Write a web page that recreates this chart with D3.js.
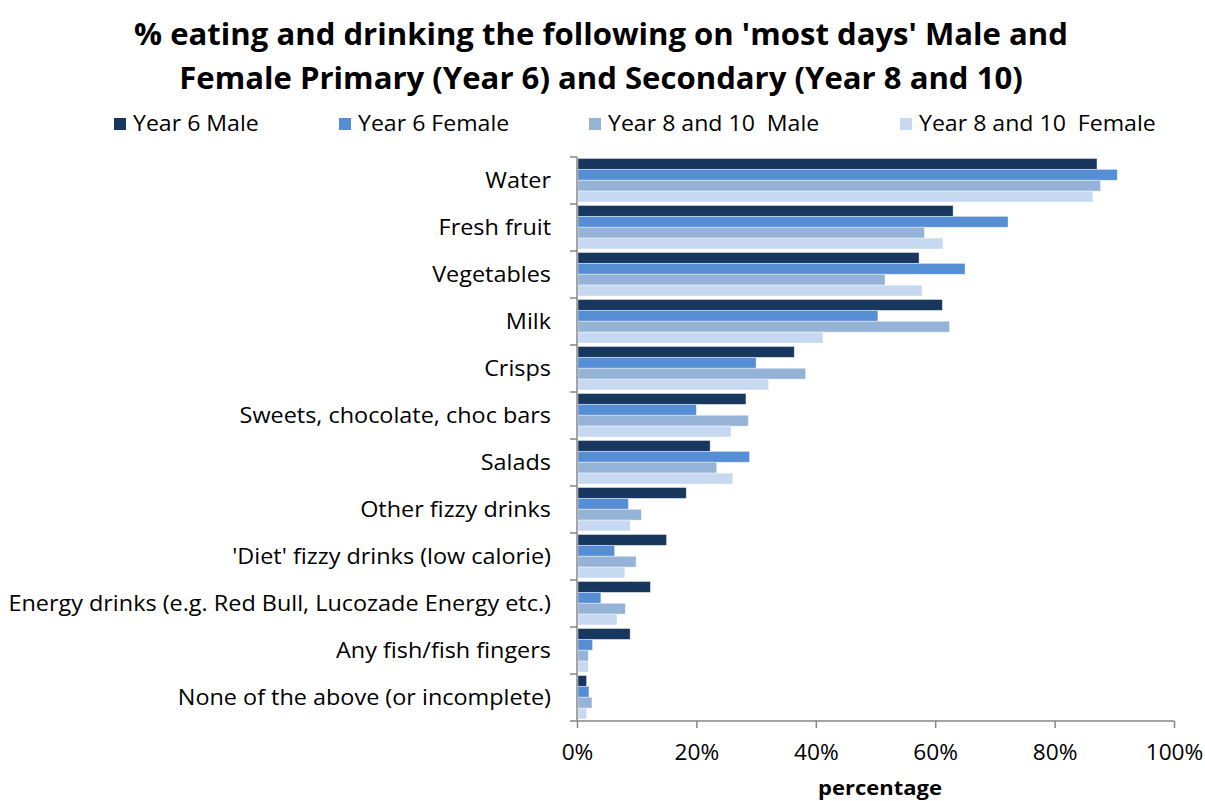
<!DOCTYPE html>
<html>
<head>
<meta charset="utf-8">
<script src="https://cdn.jsdelivr.net/npm/d3@7"></script>
<style>
  body { margin: 0; background: #fff; }
  svg { font-family: "Open Sans", sans-serif; }
  text { white-space: pre; }
</style>
</head>
<body>
<div id="chart"></div>
<script>
// Categories and series (values in %)
var categories = ["Water", "Fresh fruit", "Vegetables", "Milk", "Crisps",
  "Sweets, chocolate, choc bars", "Salads", "Other fizzy drinks",
  "'Diet' fizzy drinks (low calorie)", "Energy drinks (e.g. Red Bull, Lucozade Energy etc.)",
  "Any fish/fish fingers", "None of the above (or incomplete)"];
var seriesNames = ["Year 6 Male", "Year 6 Female", "Year 8 and 10  Male", "Year 8 and 10  Female"];
var year6Male =     [87.1, 63.0, 57.3, 61.2, 36.4, 28.3, 22.3, 18.3, 15.0, 12.3, 8.9, 1.6];
var year6Female =   [90.5, 72.2, 65.0, 50.4, 30.0, 20.0, 28.9, 8.6, 6.3, 4.0, 2.6, 2.0];
var year810Male =   [87.7, 58.2, 51.6, 62.4, 38.3, 28.7, 23.4, 10.8, 9.9, 8.1, 1.9, 2.5];
var year810Female = [86.4, 61.3, 57.8, 41.2, 32.1, 25.8, 26.1, 8.9, 8.0, 6.7, 1.9, 1.6];
var xTicks = [0, 20, 40, 60, 80, 100];

var seriesValues = [year6Male, year6Female, year810Male, year810Female];
var colors = ["#17375E", "#558ED5", "#95B3D7", "#C6D9F1"];

var svgWidth = 1205, svgHeight = 801;
var plot = { left: 577, right: 1174, top: 157, bottom: 721 };

var svg = d3.select("#chart").append("svg")
  .attr("width", svgWidth)
  .attr("height", svgHeight);

// Title (text in the original is a little wider than Open Sans)
var title = svg.append("g").attr("transform", "translate(601, 0) scale(1.037, 1)")
  .append("text")
  .attr("text-anchor", "middle")
  .attr("font-size", "30px")
  .attr("font-weight", "bold")
  .attr("fill", "#000");
title.append("tspan").attr("x", 0).attr("y", 45)
  .text("% eating and drinking the following on 'most days' Male and");
title.append("tspan").attr("x", 0).attr("y", 89)
  .text("Female Primary (Year 6) and Secondary (Year 8 and 10)");

// Scales
var x = d3.scaleLinear().domain([0, 100]).range([plot.left, plot.right]);
var y = d3.scaleBand().domain(categories).range([plot.top, plot.bottom]);
var inner = d3.scaleBand().domain(d3.range(seriesNames.length))
  .range([1.5, y.bandwidth() - 2]);

// Legend
var legendX = [114, 339, 589, 900];
var legend = svg.selectAll(".legend").data(seriesNames).enter()
  .append("g").attr("class", "legend")
  .attr("transform", (d, i) => `translate(${legendX[i]}, 118)`);
legend.append("rect").attr("width", 12).attr("height", 12)
  .attr("fill", (d, i) => colors[i]);
legend.append("text")
  .attr("transform", "translate(19, 13) scale(1.1, 1)")
  .attr("font-size", "21px")
  .text(d => d);

// Bars
var groups = svg.selectAll(".cat").data(categories).enter()
  .append("g").attr("class", "cat")
  .attr("transform", d => `translate(0, ${y(d)})`);
groups.selectAll("rect")
  .data((d, ci) => seriesValues.map((s, si) => ({ si: si, v: s[ci] })))
  .enter().append("rect")
  .attr("x", x(0) + 1)
  .attr("y", d => inner(d.si))
  .attr("width", d => x(d.v) - x(0) - 1)
  .attr("height", inner.bandwidth())
  .attr("fill", d => colors[d.si])
  .attr("stroke", "#fff")
  .attr("stroke-opacity", 0.5)
  .attr("stroke-width", 0.8);

// Y axis (category ticks on band boundaries)
svg.append("line")
  .attr("x1", plot.left).attr("x2", plot.left)
  .attr("y1", plot.top).attr("y2", plot.bottom)
  .attr("stroke", "#868686").attr("stroke-width", 1.5);
svg.selectAll(".ytick").data(d3.range(categories.length + 1)).enter()
  .append("line")
  .attr("x1", plot.left - 7).attr("x2", plot.left)
  .attr("y1", i => plot.top + i * y.step())
  .attr("y2", i => plot.top + i * y.step())
  .attr("stroke", "#868686").attr("stroke-width", 1.5);
svg.selectAll(".ylabel").data(categories).enter()
  .append("text")
  .attr("transform", d => `translate(551, ${y(d) + y.bandwidth() / 2}) scale(1.115, 1)`)
  .attr("dy", "0.35em")
  .attr("text-anchor", "end")
  .attr("font-size", "21px")
  .text(d => d);

// X axis
var xAxis = svg.append("g")
  .attr("transform", `translate(0, ${plot.bottom})`)
  .call(d3.axisBottom(x).tickValues(xTicks).tickSize(7).tickPadding(14)
    .tickFormat(d => d + "%"));
xAxis.select(".domain").attr("stroke", "#868686").attr("stroke-width", 1.5)
  .attr("d", `M${plot.left},0H${plot.right}`);
xAxis.selectAll(".tick line").attr("stroke", "#868686").attr("stroke-width", 1.5);
xAxis.selectAll(".tick text")
  .attr("y", 0).attr("dy", 0)
  .attr("transform", "translate(0, 39) scale(1.08, 1)")
  .attr("font-size", "21px")
  .attr("font-family", "Open Sans, sans-serif").attr("fill", "#000");

svg.append("text")
  .attr("transform", "translate(880, 795) scale(1.1, 1)")
  .attr("text-anchor", "middle")
  .attr("font-size", "20px")
  .attr("font-weight", "bold")
  .text("percentage");
</script>
</body>
</html>
